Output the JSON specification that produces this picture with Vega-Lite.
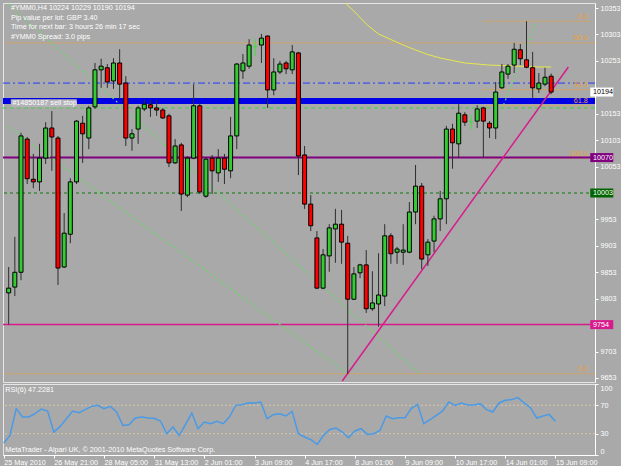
{
  "$schema": "https://vega.github.io/schema/vega-lite/v6.json",
  "background": "#a9a9a9",
  "padding": {"left": 2, "top": 2, "right": 0, "bottom": 0},
  "spacing": 2,
  "bounds": "flush",
  "config": {
    "view": {"stroke": "#e6e6e6", "strokeWidth": 1},
    "font": "Liberation Sans",
    "axis": {"labelFont": "Liberation Sans", "labelFontSize": 7.2, "labelColor": "#ffffff", "tickColor": "#ffffff", "domainColor": "#ffffff", "grid": false, "title": null, "tickSize": 3, "labelPadding": 2, "labelOverlap": false},
    "text": {"font": "Liberation Sans", "fontSize": 7.2, "color": "#ffffff"}
  },
  "datasets": {
    "candles": [
      {"i":0,"o":9814,"h":9863,"l":9754,"c":9823},
      {"i":1,"o":9825,"h":9920,"l":9808,"c":9853},
      {"i":2,"o":9853,"h":10117,"l":9838,"c":10111},
      {"i":3,"o":10105,"h":10109,"l":10020,"c":10030},
      {"i":4,"o":10029,"h":10077,"l":10012,"c":10024},
      {"i":5,"o":10024,"h":10096,"l":10007,"c":10069},
      {"i":6,"o":10069,"h":10137,"l":10058,"c":10126},
      {"i":7,"o":10126,"h":10158,"l":10045,"c":10109},
      {"i":8,"o":10107,"h":10111,"l":9829,"c":9861},
      {"i":9,"o":9863,"h":9965,"l":9861,"c":9927},
      {"i":10,"o":9925,"h":10031,"l":9908,"c":10024},
      {"i":11,"o":10024,"h":10141,"l":10020,"c":10139},
      {"i":12,"o":10135,"h":10149,"l":10060,"c":10115},
      {"i":13,"o":10107,"h":10168,"l":10086,"c":10164},
      {"i":14,"o":10166,"h":10249,"l":10162,"c":10236},
      {"i":15,"o":10236,"h":10257,"l":10202,"c":10243},
      {"i":16,"o":10240,"h":10247,"l":10202,"c":10213},
      {"i":17,"o":10215,"h":10258,"l":10200,"c":10249},
      {"i":18,"o":10249,"h":10275,"l":10181,"c":10209},
      {"i":19,"o":10211,"h":10224,"l":10092,"c":10107},
      {"i":20,"o":10107,"h":10124,"l":10083,"c":10115},
      {"i":21,"o":10124,"h":10168,"l":10096,"c":10164},
      {"i":22,"o":10162,"h":10179,"l":10158,"c":10171},
      {"i":23,"o":10170,"h":10179,"l":10147,"c":10164},
      {"i":24,"o":10164,"h":10179,"l":10149,"c":10160},
      {"i":25,"o":10160,"h":10164,"l":10143,"c":10145},
      {"i":26,"o":10149,"h":10153,"l":10052,"c":10060},
      {"i":27,"o":10060,"h":10105,"l":10058,"c":10092},
      {"i":28,"o":10094,"h":10098,"l":9969,"c":10001},
      {"i":29,"o":9999,"h":10073,"l":9995,"c":10069},
      {"i":30,"o":10069,"h":10209,"l":10067,"c":10168},
      {"i":31,"o":10168,"h":10173,"l":10001,"c":10005},
      {"i":32,"o":9997,"h":10071,"l":9994,"c":10067},
      {"i":33,"o":10069,"h":10075,"l":10001,"c":10045},
      {"i":34,"o":10041,"h":10086,"l":10024,"c":10069},
      {"i":35,"o":10069,"h":10077,"l":10020,"c":10048},
      {"i":36,"o":10045,"h":10147,"l":10031,"c":10111},
      {"i":37,"o":10111,"h":10249,"l":10086,"c":10247},
      {"i":38,"o":10234,"h":10266,"l":10219,"c":10249},
      {"i":39,"o":10243,"h":10294,"l":10238,"c":10283},
      {"i":40,"o":10280,"h":10294,"l":10262,"c":10280},
      {"i":41,"o":10283,"h":10304,"l":10249,"c":10296},
      {"i":42,"o":10300,"h":10301,"l":10164,"c":10198},
      {"i":43,"o":10198,"h":10258,"l":10188,"c":10232},
      {"i":44,"o":10232,"h":10253,"l":10228,"c":10247},
      {"i":45,"o":10249,"h":10253,"l":10228,"c":10238},
      {"i":46,"o":10236,"h":10283,"l":10228,"c":10270},
      {"i":47,"o":10268,"h":10270,"l":10037,"c":10073},
      {"i":48,"o":10075,"h":10092,"l":9973,"c":9982},
      {"i":49,"o":9982,"h":9999,"l":9931,"c":9941},
      {"i":50,"o":9918,"h":9931,"l":9821,"c":9823},
      {"i":51,"o":9823,"h":9897,"l":9821,"c":9886},
      {"i":52,"o":9884,"h":9944,"l":9854,"c":9937},
      {"i":53,"o":9935,"h":9973,"l":9871,"c":9944},
      {"i":54,"o":9944,"h":9971,"l":9869,"c":9910},
      {"i":55,"o":9908,"h":9922,"l":9661,"c":9802},
      {"i":56,"o":9802,"h":9863,"l":9801,"c":9850},
      {"i":57,"o":9852,"h":9869,"l":9842,"c":9867},
      {"i":58,"o":9867,"h":9895,"l":9776,"c":9784},
      {"i":59,"o":9784,"h":9855,"l":9780,"c":9795},
      {"i":60,"o":9793,"h":9889,"l":9750,"c":9810},
      {"i":61,"o":9808,"h":9944,"l":9789,"c":9922},
      {"i":62,"o":9922,"h":9927,"l":9869,"c":9888},
      {"i":63,"o":9891,"h":9901,"l":9869,"c":9897},
      {"i":64,"o":9891,"h":9944,"l":9867,"c":9895},
      {"i":65,"o":9891,"h":9986,"l":9889,"c":9967},
      {"i":66,"o":9967,"h":10056,"l":9944,"c":10016},
      {"i":67,"o":10016,"h":10022,"l":9859,"c":9878},
      {"i":68,"o":9886,"h":9916,"l":9865,"c":9910},
      {"i":69,"o":9912,"h":9960,"l":9891,"c":9954},
      {"i":70,"o":9954,"h":10007,"l":9931,"c":9992},
      {"i":71,"o":9992,"h":10130,"l":9944,"c":10124},
      {"i":72,"o":10124,"h":10134,"l":10049,"c":10098},
      {"i":73,"o":10096,"h":10171,"l":10069,"c":10154},
      {"i":74,"o":10151,"h":10156,"l":10130,"c":10137},
      {"i":75,"o":10138,"h":10151,"l":10124,"c":10138},
      {"i":76,"o":10139,"h":10169,"l":10126,"c":10162},
      {"i":77,"o":10164,"h":10166,"l":10069,"c":10139},
      {"i":78,"o":10135,"h":10139,"l":10107,"c":10126},
      {"i":79,"o":10126,"h":10213,"l":10105,"c":10194},
      {"i":80,"o":10202,"h":10247,"l":10200,"c":10232},
      {"i":81,"o":10228,"h":10247,"l":10219,"c":10243},
      {"i":82,"o":10245,"h":10287,"l":10230,"c":10275},
      {"i":83,"o":10274,"h":10285,"l":10245,"c":10257},
      {"i":84,"o":10255,"h":10328,"l":10239,"c":10241},
      {"i":85,"o":10240,"h":10270,"l":10183,"c":10202},
      {"i":86,"o":10200,"h":10230,"l":10192,"c":10211},
      {"i":87,"o":10209,"h":10240,"l":10205,"c":10222},
      {"i":88,"o":10224,"h":10229,"l":10190,"c":10194}
    ],
    "hlines": [
      {"name":"sellstop","price":10177},
      {"name":"dashdot","price":10211},
      {"name":"lightgreen","price":10164},
      {"name":"purple","price":10070},
      {"name":"green","price":10003},
      {"name":"magenta","price":9754}
    ],
    "fibfull": [{"level":"50.0","price":10287},{"level":"0.0","price":9661}],
    "fibA": [
      {"level":"0.0","price":10328,"from":77},
      {"level":"50.0","price":10198.5,"from":77},
      {"level":"61.8","price":10168,"from":77},
      {"level":"100.0","price":10069,"from":77}
    ],
    "trend": [{"i":54.11,"p":9647.3},{"i":90.79,"p":10241.4}],
    "greendots": [
      {"line":"g1","i":-0.11,"p":10360.6},{"line":"g1","i":66.55,"p":9662.5},
      {"line":"g2","i":-0.11,"p":10128.8},{"line":"g2","i":55,"p":9661},
      {"line":"g3","i":80.27,"p":10169.5},{"line":"g3","i":85.69,"p":10328.4}
    ],
    "ma": [
      {"i":54.6,"p":10362.5},{"i":56,"p":10347.3},{"i":58,"p":10322.7},{"i":60,"p":10303.8},
      {"i":62,"p":10293.4},{"i":64,"p":10283},{"i":66,"p":10273.5},{"i":68,"p":10265},
      {"i":70,"p":10258.4},{"i":72,"p":10253.7},{"i":74,"p":10249},{"i":76,"p":10247},
      {"i":78,"p":10245},{"i":80,"p":10244.2},{"i":82,"p":10243.3},{"i":84,"p":10242.3},
      {"i":86,"p":10241.4},{"i":88,"p":10241.4}
    ],
    "tags": [
      {"price":10194,"text":"10194","kind":"bid"},
      {"price":10070,"text":"10070","kind":"purple"},
      {"price":10003,"text":"10003","kind":"green"},
      {"price":9754,"text":"9754","kind":"magenta"}
    ],
    "notes": [{"text":"#YMM0,H4  10224 10229 10190 10194\n\nPip value per lot: GBP 3.40\nTime for next bar: 3 hours 26 min 17 sec\n#YMM0 Spread: 3.0 pips"}],
    "order": [{"text":"#14850187 sell stop","price":10177}],
    "rsi": [
      {"i":0,"v":16.8},{"i":1,"v":27.5},{"i":2,"v":65.3},{"i":3,"v":53.5},{"i":4,"v":53.5},
      {"i":5,"v":58.2},{"i":6,"v":64.8},{"i":7,"v":62},{"i":8,"v":32.3},{"i":9,"v":40.3},
      {"i":10,"v":51.1},{"i":11,"v":62},{"i":12,"v":59.6},{"i":13,"v":63.8},{"i":14,"v":68.5},
      {"i":15,"v":69.9},{"i":16,"v":65.3},{"i":17,"v":68.5},{"i":18,"v":60.6},{"i":19,"v":41.7},
      {"i":20,"v":42.7},{"i":21,"v":52.1},{"i":22,"v":53.5},{"i":23,"v":52.1},{"i":24,"v":51.6},
      {"i":25,"v":47.9},{"i":26,"v":29.9},{"i":27,"v":39.4},{"i":28,"v":27.5},{"i":29,"v":43.1},
      {"i":30,"v":59.2},{"i":31,"v":37},{"i":32,"v":46.5},{"i":33,"v":44.1},{"i":34,"v":47.3},
      {"i":35,"v":44.1},{"i":36,"v":53.5},{"i":37,"v":69.9},{"i":38,"v":70.9},{"i":39,"v":73.7},
      {"i":40,"v":73.3},{"i":41,"v":74.7},{"i":42,"v":51.1},{"i":43,"v":56.8},{"i":44,"v":58.2},
      {"i":45,"v":54.9},{"i":46,"v":61.4},{"i":47,"v":29.9},{"i":48,"v":25.3},{"i":49,"v":21.5},
      {"i":50,"v":14.8},{"i":51,"v":27.5},{"i":52,"v":36},{"i":53,"v":38},{"i":54,"v":32.3},
      {"i":55,"v":24.3},{"i":56,"v":33.8},{"i":57,"v":37},{"i":58,"v":29},{"i":59,"v":29.9},
      {"i":60,"v":34.6},{"i":61,"v":54.9},{"i":62,"v":51.1},{"i":63,"v":52.5},{"i":64,"v":52.5},
      {"i":65,"v":65.3},{"i":66,"v":71.3},{"i":67,"v":44.1},{"i":68,"v":49.7},{"i":69,"v":55.8},
      {"i":70,"v":62},{"i":71,"v":74.7},{"i":72,"v":69.9},{"i":73,"v":73.3},{"i":74,"v":70.5},
      {"i":75,"v":70.5},{"i":76,"v":72.3},{"i":77,"v":63.8},{"i":78,"v":60.6},{"i":79,"v":73.3},
      {"i":80,"v":77},{"i":81,"v":78},{"i":82,"v":80.8},{"i":83,"v":73.3},{"i":84,"v":66.7},
      {"i":85,"v":52.1},{"i":86,"v":54.9},{"i":87,"v":57.2},{"i":88,"v":47.2281}
    ],
    "rsilevels": [{"v":70},{"v":30}],
    "rsititle": [{"text":"RSI(6) 47.2281"}],
    "copyright": [{"text":"MetaTrader - Alpari UK, © 2001-2010 MetaQuotes Software Corp."}]
  },
  "vconcat": [
    {
      "width": 592,
      "height": 379,
      "layer": [
        {
          "data": {"name": "fibfull"},
          "mark": {"type": "rule", "color": "#eea030", "strokeDash": [2, 2], "strokeWidth": 1, "clip": true},
          "encoding": {
            "y": {"field": "price", "type": "quantitative", "scale": {"domain": [9645.4, 10362.5], "nice": false, "zero": false},
              "axis": {"orient": "right", "format": "d", "tickCount": 100, "labelOverlap": false, "labelBound": false, "values": [10353, 10303, 10253, 10153, 10103, 10053, 9953, 9903, 9853, 9803, 9703, 9653]}}
          }
        },
        {
          "data": {"name": "fibA"},
          "mark": {"type": "rule", "color": "#eea030", "strokeDash": [2, 2], "strokeWidth": 1, "clip": true},
          "encoding": {
            "x": {"field": "from", "type": "quantitative", "scale": {"domain": [-0.11, 94.3], "nice": false, "zero": false}, "axis": null},
            "x2": {"datum": 94.3},
            "y": {"field": "price", "type": "quantitative"}
          }
        },
        {
          "data": {"name": "hlines"},
          "transform": [{"filter": "datum.name == 'sellstop'"}],
          "mark": {"type": "rule", "color": "#0000e6", "strokeWidth": 6, "clip": true},
          "encoding": {"y": {"field": "price", "type": "quantitative"}}
        },
        {
          "data": {"name": "hlines"},
          "transform": [{"filter": "datum.name == 'dashdot'"}],
          "mark": {"type": "rule", "color": "#1f3cff", "strokeWidth": 1, "strokeDash": [7, 3, 2, 3], "clip": true},
          "encoding": {"y": {"field": "price", "type": "quantitative"}}
        },
        {
          "data": {"name": "hlines"},
          "transform": [{"filter": "datum.name == 'lightgreen'"}],
          "mark": {"type": "rule", "color": "#44cc44", "strokeWidth": 1, "strokeDash": [4, 3], "clip": true},
          "encoding": {"y": {"field": "price", "type": "quantitative"}}
        },
        {
          "data": {"name": "hlines"},
          "transform": [{"filter": "datum.name == 'purple'"}],
          "mark": {"type": "rule", "color": "#800080", "strokeWidth": 2, "clip": true},
          "encoding": {"y": {"field": "price", "type": "quantitative"}}
        },
        {
          "data": {"name": "hlines"},
          "transform": [{"filter": "datum.name == 'green'"}],
          "mark": {"type": "rule", "color": "#0a7a0a", "strokeWidth": 1, "strokeDash": [3, 3], "clip": true},
          "encoding": {"y": {"field": "price", "type": "quantitative"}}
        },
        {
          "data": {"name": "hlines"},
          "transform": [{"filter": "datum.name == 'magenta'"}],
          "mark": {"type": "rule", "color": "#d81b8c", "strokeWidth": 1.5, "clip": true},
          "encoding": {"y": {"field": "price", "type": "quantitative"}}
        },
        {
          "data": {"name": "greendots"},
          "mark": {"type": "line", "color": "#66dd66", "strokeWidth": 1.3, "strokeDash": [2, 3], "clip": true},
          "encoding": {
            "x": {"field": "i", "type": "quantitative"},
            "y": {"field": "p", "type": "quantitative"},
            "detail": {"field": "line"}
          }
        },
        {
          "data": {"name": "ma"},
          "mark": {"type": "line", "color": "#e8e84a", "strokeWidth": 1, "clip": true},
          "encoding": {
            "x": {"field": "i", "type": "quantitative"},
            "y": {"field": "p", "type": "quantitative"}
          }
        },
        {
          "data": {"name": "trend"},
          "mark": {"type": "line", "color": "#d81b8c", "strokeWidth": 1.5, "clip": true},
          "encoding": {
            "x": {"field": "i", "type": "quantitative"},
            "y": {"field": "p", "type": "quantitative"}
          }
        },
        {
          "data": {"name": "candles"},
          "mark": {"type": "rule", "strokeWidth": 1, "clip": true},
          "encoding": {
            "x": {"field": "i", "type": "quantitative"},
            "y": {"field": "l", "type": "quantitative"},
            "y2": {"field": "h"},
            "color": {"condition": {"test": "datum.o == datum.c", "value": "#3ee03e"}, "value": "#2e2e2e"}
          }
        },
        {
          "data": {"name": "candles"},
          "mark": {"type": "bar", "size": 4, "strokeWidth": 1, "clip": true},
          "encoding": {
            "x": {"field": "i", "type": "quantitative"},
            "y": {"field": "o", "type": "quantitative"},
            "y2": {"field": "c"},
            "fill": {"condition": {"test": "datum.c > datum.o", "value": "#33cc33"}, "value": "#ff0000"},
            "stroke": {"condition": {"test": "datum.o == datum.c", "value": "#3ee03e"}, "value": "#000000"}
          }
        },
        {
          "data": {"name": "fibfull"},
          "mark": {"type": "text", "align": "right", "baseline": "bottom", "color": "#eea030", "dy": -0.5},
          "encoding": {
            "x": {"datum": 93.95},
            "y": {"field": "price", "type": "quantitative"},
            "text": {"field": "level"}
          }
        },
        {
          "data": {"name": "fibA"},
          "mark": {"type": "text", "align": "right", "baseline": "bottom", "color": "#eea030", "dy": -0.5},
          "encoding": {
            "x": {"datum": 93.95},
            "y": {"field": "price", "type": "quantitative"},
            "text": {"field": "level"}
          }
        },
        {
          "data": {"name": "order"},
          "mark": {"type": "tick", "orient": "horizontal", "size": 66, "thickness": 8, "color": "#b3b3b8", "opacity": 1},
          "encoding": {
            "x": {"datum": 5.7},
            "y": {"datum": 10173}
          }
        },
        {
          "data": {"name": "order"},
          "mark": {"type": "text", "align": "left", "baseline": "middle", "dy": 2},
          "encoding": {
            "x": {"datum": 0.6},
            "y": {"field": "price", "type": "quantitative"},
            "text": {"field": "text"}
          }
        },
        {
          "data": {"name": "notes"},
          "mark": {"type": "text", "align": "left", "baseline": "top", "lineBreak": "\n", "lineHeight": 9.6},
          "encoding": {
            "x": {"datum": 0.37},
            "y": {"datum": 10360.6},
            "text": {"field": "text"}
          }
        },
        {
          "data": {"name": "tags"},
          "mark": {"type": "tick", "orient": "horizontal", "size": 23, "thickness": 9, "opacity": 1},
          "encoding": {
            "x": {"datum": 96.21},
            "y": {"field": "price", "type": "quantitative"},
            "color": {"field": "kind", "type": "nominal", "legend": null,
              "scale": {"domain": ["bid", "purple", "green", "magenta"], "range": ["#ffffff", "#800080", "#006400", "#d81b8c"]}}
          }
        },
        {
          "data": {"name": "tags"},
          "mark": {"type": "text", "align": "left", "baseline": "middle"},
          "encoding": {
            "x": {"datum": 94.78},
            "y": {"field": "price", "type": "quantitative"},
            "text": {"field": "text"},
            "color": {"condition": {"test": "datum.kind == 'bid'", "value": "#000000"}, "value": "#ffffff"}
          }
        }
      ]
    },
    {
      "width": 592,
      "height": 71,
      "layer": [
        {
          "data": {"name": "rsilevels"},
          "mark": {"type": "rule", "color": "#d6c7a4", "strokeDash": [2, 2], "strokeWidth": 1, "clip": true},
          "encoding": {
            "y": {"field": "v", "type": "quantitative", "scale": {"domain": [0, 100], "nice": false, "zero": false},
              "axis": {"orient": "right", "values": [0, 30, 70, 100], "tickCount": 100, "labelFlush": true, "labelOverlap": false}}
          }
        },
        {
          "data": {"name": "rsi"},
          "mark": {"type": "line", "color": "#4a9ae6", "strokeWidth": 1.5, "clip": true},
          "encoding": {
            "x": {"field": "i", "type": "quantitative", "scale": {"domain": [-0.11, 94.3], "nice": false, "zero": false},
              "axis": {"values": [0, 8, 16, 24, 32, 40, 48, 56, 64, 72, 80, 88], "tickCount": 100,
                "labelExpr": "['25 May 2010','26 May 21:00','28 May 05:00','31 May 13:00','2 Jun 01:00','3 Jun 09:00','4 Jun 17:00','8 Jun 01:00','9 Jun 09:00','10 Jun 17:00','14 Jun 01:00','15 Jun 09:00'][round(datum.value/8)]",
                "labelAlign": "left", "labelBaseline": "top", "labelPadding": 0, "labelFlush": false, "labelBound": false, "labelOverlap": false}},
            "y": {"field": "v", "type": "quantitative"}
          }
        },
        {
          "data": {"name": "rsititle"},
          "mark": {"type": "text", "align": "left", "baseline": "middle"},
          "encoding": {
            "x": {"datum": 0.25},
            "y": {"datum": 91},
            "text": {"field": "text"}
          }
        },
        {
          "data": {"name": "copyright"},
          "mark": {"type": "text", "align": "left", "baseline": "middle"},
          "encoding": {
            "x": {"datum": 0.25},
            "y": {"datum": 7},
            "text": {"field": "text"}
          }
        }
      ]
    }
  ]
}
